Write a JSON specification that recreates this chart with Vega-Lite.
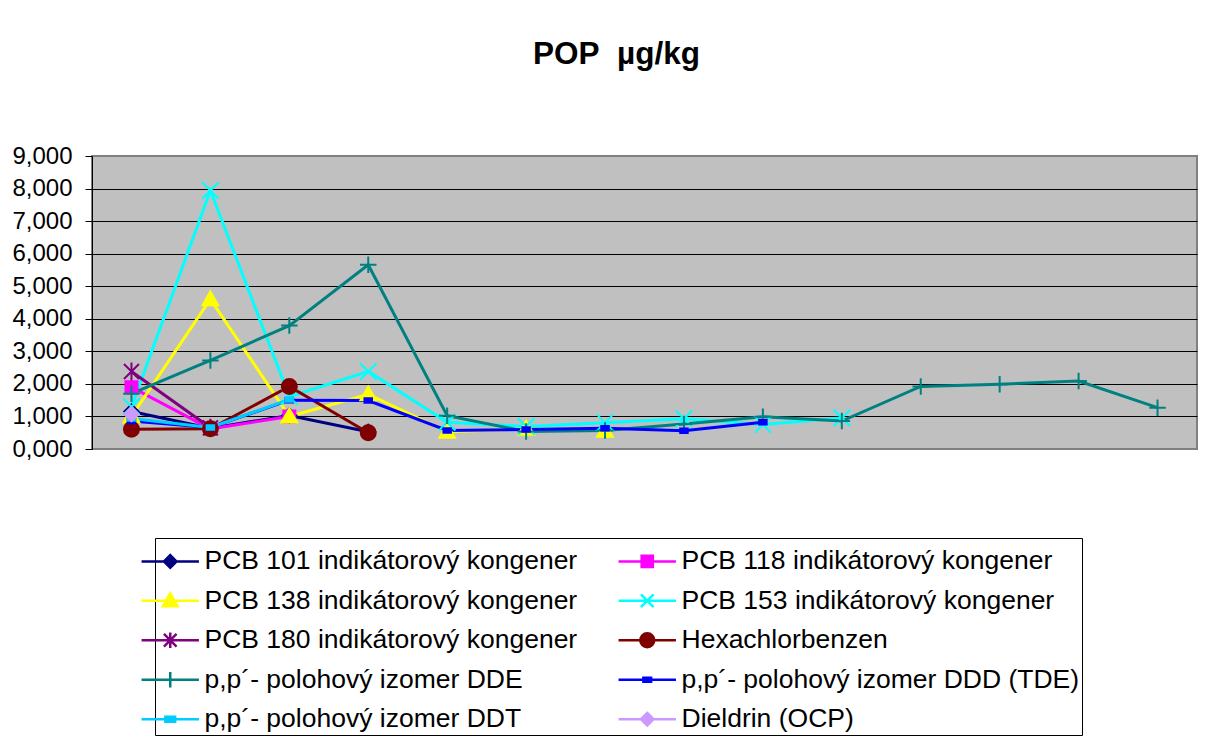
{
  "$schema": "https://vega.github.io/schema/vega-lite/v6.json",
  "width": 1105,
  "height": 293,
  "autosize": {"type": "none"},
  "padding": {"left": 92, "top": 156, "right": 11, "bottom": 287},
  "background": "white",
  "title": {"text": "POP\u00a0 µg/kg", "font": "Liberation Sans", "fontSize": 31.5, "fontWeight": "bold", "color": "black", "anchor": "middle", "dx": -28, "offset": 49, "baseline": "alphabetic"},
  "config": {
    "font": "Liberation Sans",
    "view": {"fill": "#C0C0C0", "stroke": "#808080", "strokeWidth": 2},
    "legend": {
      "orient": "none", "legendX": 63, "legendY": 382, "columns": 2,
      "titleFontSize": 2, "titlePadding": 6, "titleColor": "white",
      "labelFont": "Liberation Sans", "labelFontSize": 26.5, "labelColor": "black", "labelLimit": 0,
      "labelOffset": 21, "rowPadding": 12.5, "columnPadding": 35, "padding": 2,
      "strokeColor": "black", "strokeWidth": 1, "fillColor": "white", "symbolSize": 196, "symbolStrokeWidth": 2.5
    }
  },
  "datasets": {
    "pop": [
      {"s": "PCB 101 indikátorový kongener", "c": 1, "v": 1.15},
      {"s": "PCB 101 indikátorový kongener", "c": 2, "v": 0.64},
      {"s": "PCB 101 indikátorový kongener", "c": 3, "v": 1.03},
      {"s": "PCB 101 indikátorový kongener", "c": 4, "v": 0.53},
      {"s": "PCB 118 indikátorový kongener", "c": 1, "v": 1.9},
      {"s": "PCB 118 indikátorový kongener", "c": 2, "v": 0.62},
      {"s": "PCB 118 indikátorový kongener", "c": 3, "v": 1.0},
      {"s": "PCB 138 indikátorový kongener", "c": 1, "v": 1.0},
      {"s": "PCB 138 indikátorový kongener", "c": 2, "v": 4.6},
      {"s": "PCB 138 indikátorový kongener", "c": 3, "v": 1.0},
      {"s": "PCB 138 indikátorový kongener", "c": 4, "v": 1.68},
      {"s": "PCB 138 indikátorový kongener", "c": 5, "v": 0.53},
      {"s": "PCB 138 indikátorový kongener", "c": 6, "v": 0.62},
      {"s": "PCB 138 indikátorový kongener", "c": 7, "v": 0.56},
      {"s": "PCB 153 indikátorový kongener", "c": 1, "v": 1.3},
      {"s": "PCB 153 indikátorový kongener", "c": 2, "v": 7.94},
      {"s": "PCB 153 indikátorový kongener", "c": 3, "v": 1.61},
      {"s": "PCB 153 indikátorový kongener", "c": 4, "v": 2.38},
      {"s": "PCB 153 indikátorový kongener", "c": 5, "v": 0.82},
      {"s": "PCB 153 indikátorový kongener", "c": 6, "v": 0.69},
      {"s": "PCB 153 indikátorový kongener", "c": 7, "v": 0.81},
      {"s": "PCB 153 indikátorový kongener", "c": 8, "v": 0.93},
      {"s": "PCB 153 indikátorový kongener", "c": 9, "v": 0.75},
      {"s": "PCB 153 indikátorový kongener", "c": 10, "v": 0.95},
      {"s": "PCB 180 indikátorový kongener", "c": 1, "v": 2.38},
      {"s": "PCB 180 indikátorový kongener", "c": 2, "v": 0.65},
      {"s": "Hexachlorbenzen", "c": 1, "v": 0.61},
      {"s": "Hexachlorbenzen", "c": 2, "v": 0.62},
      {"s": "Hexachlorbenzen", "c": 3, "v": 1.92},
      {"s": "Hexachlorbenzen", "c": 4, "v": 0.5},
      {"s": "p,p´- polohový izomer DDE", "c": 1, "v": 1.7},
      {"s": "p,p´- polohový izomer DDE", "c": 2, "v": 2.72},
      {"s": "p,p´- polohový izomer DDE", "c": 3, "v": 3.79},
      {"s": "p,p´- polohový izomer DDE", "c": 4, "v": 5.66},
      {"s": "p,p´- polohový izomer DDE", "c": 5, "v": 1.02},
      {"s": "p,p´- polohový izomer DDE", "c": 6, "v": 0.54},
      {"s": "p,p´- polohový izomer DDE", "c": 7, "v": 0.57},
      {"s": "p,p´- polohový izomer DDE", "c": 8, "v": 0.77},
      {"s": "p,p´- polohový izomer DDE", "c": 9, "v": 0.99},
      {"s": "p,p´- polohový izomer DDE", "c": 10, "v": 0.86},
      {"s": "p,p´- polohový izomer DDE", "c": 11, "v": 1.92},
      {"s": "p,p´- polohový izomer DDE", "c": 12, "v": 1.99},
      {"s": "p,p´- polohový izomer DDE", "c": 13, "v": 2.09},
      {"s": "p,p´- polohový izomer DDE", "c": 14, "v": 1.27},
      {"s": "p,p´- polohový izomer DDD (TDE)", "c": 1, "v": 0.86},
      {"s": "p,p´- polohový izomer DDD (TDE)", "c": 2, "v": 0.66},
      {"s": "p,p´- polohový izomer DDD (TDE)", "c": 3, "v": 1.5},
      {"s": "p,p´- polohový izomer DDD (TDE)", "c": 4, "v": 1.49},
      {"s": "p,p´- polohový izomer DDD (TDE)", "c": 5, "v": 0.57},
      {"s": "p,p´- polohový izomer DDD (TDE)", "c": 6, "v": 0.6},
      {"s": "p,p´- polohový izomer DDD (TDE)", "c": 7, "v": 0.64},
      {"s": "p,p´- polohový izomer DDD (TDE)", "c": 8, "v": 0.56},
      {"s": "p,p´- polohový izomer DDD (TDE)", "c": 9, "v": 0.82},
      {"s": "p,p´- polohový izomer DDT", "c": 1, "v": 0.94},
      {"s": "p,p´- polohový izomer DDT", "c": 2, "v": 0.66},
      {"s": "p,p´- polohový izomer DDT", "c": 3, "v": 1.52},
      {"s": "Dieldrin (OCP)", "c": 1, "v": 1.07}
    ]
  },
  "data": {"name": "pop"},
  "encoding": {
    "x": {"field": "c", "type": "ordinal", "scale": {"type": "point", "padding": 0.5}, "axis": null},
    "y": {
      "field": "v", "type": "quantitative",
      "scale": {"domain": [0, 9], "nice": false, "zero": true},
      "axis": {
        "values": [0, 1, 2, 3, 4, 5, 6, 7, 8, 9],
        "labelExpr": "replace(format(datum.value, '.3f'), '.', ',')",
        "title": null, "grid": true,
        "gridColor": "black", "gridWidth": 1,
        "gridOpacity": {"condition": {"test": "datum.value == 0 || datum.value == 9", "value": 0}, "value": 1},
        "domainColor": "black", "domainWidth": 1,
        "tickColor": "black", "tickSize": 7, "tickWidth": 1,
        "labelFont": "Liberation Sans", "labelFontSize": 24, "labelColor": "black", "labelPadding": 13
      }
    }
  },
  "layer": [
    {
      "layer": [
        {
          "mark": {"type": "line", "strokeWidth": 3},
          "encoding": {
            "color": {
              "field": "s", "type": "nominal", "legend": null,
              "scale": {
                "domain": ["PCB 101 indikátorový kongener", "PCB 118 indikátorový kongener", "PCB 138 indikátorový kongener", "PCB 153 indikátorový kongener", "PCB 180 indikátorový kongener", "Hexachlorbenzen", "p,p´- polohový izomer DDE", "p,p´- polohový izomer DDD (TDE)", "p,p´- polohový izomer DDT", "Dieldrin (OCP)"],
                "range": ["#000080", "#FF00FF", "#FFFF00", "#00FFFF", "#800080", "#800000", "#008080", "#0000FF", "#00CCFF", "#CC99FF"]
              }
            }
          }
        },
        {
          "mark": {"type": "point", "filled": true, "opacity": 1, "size": 225, "strokeWidth": 2},
          "encoding": {
            "color": {"field": "s", "type": "nominal", "legend": null},
            "stroke": {
              "field": "s", "type": "nominal", "legend": null,
              "scale": {
                "domain": ["PCB 101 indikátorový kongener", "PCB 118 indikátorový kongener", "PCB 138 indikátorový kongener", "PCB 153 indikátorový kongener", "PCB 180 indikátorový kongener", "Hexachlorbenzen", "p,p´- polohový izomer DDE", "p,p´- polohový izomer DDD (TDE)", "p,p´- polohový izomer DDT", "Dieldrin (OCP)"],
                "range": ["#000080", "#FF00FF", "#FFFF00", "#00FFFF", "#800080", "#800000", "#008080", "#0000FF", "#00CCFF", "#CC99FF"]
              }
            },
            "shape": {
              "field": "s", "type": "nominal", "legend": null,
              "scale": {
                "domain": ["PCB 101 indikátorový kongener", "PCB 118 indikátorový kongener", "PCB 138 indikátorový kongener", "PCB 153 indikátorový kongener", "PCB 180 indikátorový kongener", "Hexachlorbenzen", "p,p´- polohový izomer DDE", "p,p´- polohový izomer DDD (TDE)", "p,p´- polohový izomer DDT", "Dieldrin (OCP)"],
                "range": [
                  "M0,-0.95L0.95,0L0,0.95L-0.95,0Z",
                  "M-0.8,-0.8H0.8V0.8H-0.8Z",
                  "M0,-1.05L1.05,0.8H-1.05Z",
                  "M-1.1,-1.1L1.1,1.1M-1.1,1.1L1.1,-1.1",
                  "M-1,-1L1,1M-1,1L1,-1M0,-1.2V1.2",
                  "M1,0A1,1,0,1,1,-1,0A1,1,0,1,1,1,0Z",
                  "M-1.1,0H1.1M0,-1.1V1.1",
                  "M-0.5,-0.3H0.5V0.3H-0.5Z",
                  "M-0.5,-0.3H0.5V0.3H-0.5Z",
                  "M0,-0.95L0.95,0L0,0.95L-0.95,0Z"
                ]
              }
            }
          }
        }
      ]
    },
    {
      "transform": [{"filter": "false"}],
      "mark": {"type": "point", "filled": true, "opacity": 1, "strokeWidth": 2.5},
      "encoding": {
        "color": {
          "field": "s", "type": "nominal", "title": " ",
          "scale": {
            "domain": ["PCB 101 indikátorový kongener", "PCB 138 indikátorový kongener", "PCB 180 indikátorový kongener", "p,p´- polohový izomer DDE", "p,p´- polohový izomer DDT", "PCB 118 indikátorový kongener", "PCB 153 indikátorový kongener", "Hexachlorbenzen", "p,p´- polohový izomer DDD (TDE)", "Dieldrin (OCP)"],
            "range": ["#000080", "#FFFF00", "#800080", "#008080", "#00CCFF", "#FF00FF", "#00FFFF", "#800000", "#0000FF", "#CC99FF"]
          }
        },
        "stroke": {
          "field": "s", "type": "nominal", "title": " ",
          "scale": {
            "domain": ["PCB 101 indikátorový kongener", "PCB 138 indikátorový kongener", "PCB 180 indikátorový kongener", "p,p´- polohový izomer DDE", "p,p´- polohový izomer DDT", "PCB 118 indikátorový kongener", "PCB 153 indikátorový kongener", "Hexachlorbenzen", "p,p´- polohový izomer DDD (TDE)", "Dieldrin (OCP)"],
            "range": ["#000080", "#FFFF00", "#800080", "#008080", "#00CCFF", "#FF00FF", "#00FFFF", "#800000", "#0000FF", "#CC99FF"]
          }
        },
        "shape": {
          "field": "s", "type": "nominal", "title": " ",
          "scale": {
            "domain": ["PCB 101 indikátorový kongener", "PCB 138 indikátorový kongener", "PCB 180 indikátorový kongener", "p,p´- polohový izomer DDE", "p,p´- polohový izomer DDT", "PCB 118 indikátorový kongener", "PCB 153 indikátorový kongener", "Hexachlorbenzen", "p,p´- polohový izomer DDD (TDE)", "Dieldrin (OCP)"],
            "range": [
              "M-4.1,0H4.1M0,-0.9L0.9,0L0,0.9L-0.9,0Z",
              "M-4.1,0H4.1M0,-1.05L1.05,0.8H-1.05Z",
              "M-4.1,0H4.1M-0.9,-0.9L0.9,0.9M-0.9,0.9L0.9,-0.9M0,-1.1V1.1",
              "M-4.1,0H4.1M0,-1.1V1.1",
              "M-4.1,0H4.1M-0.7,-0.35H0.7V0.35H-0.7Z",
              "M-4.1,0H4.1M-0.8,-0.8H0.8V0.8H-0.8Z",
              "M-4.1,0H4.1M-0.9,-0.9L0.9,0.9M-0.9,0.9L0.9,-0.9",
              "M-4.1,0H4.1M1,0A1,1,0,1,1,-1,0A1,1,0,1,1,1,0Z",
              "M-4.1,0H4.1M-0.55,-0.3H0.55V0.3H-0.55Z",
              "M-4.1,0H4.1M0,-0.9L0.9,0L0,0.9L-0.9,0Z"
            ]
          }
        }
      }
    }
  ],
  "resolve": {"scale": {"color": "independent", "stroke": "independent", "shape": "independent"}}
}
